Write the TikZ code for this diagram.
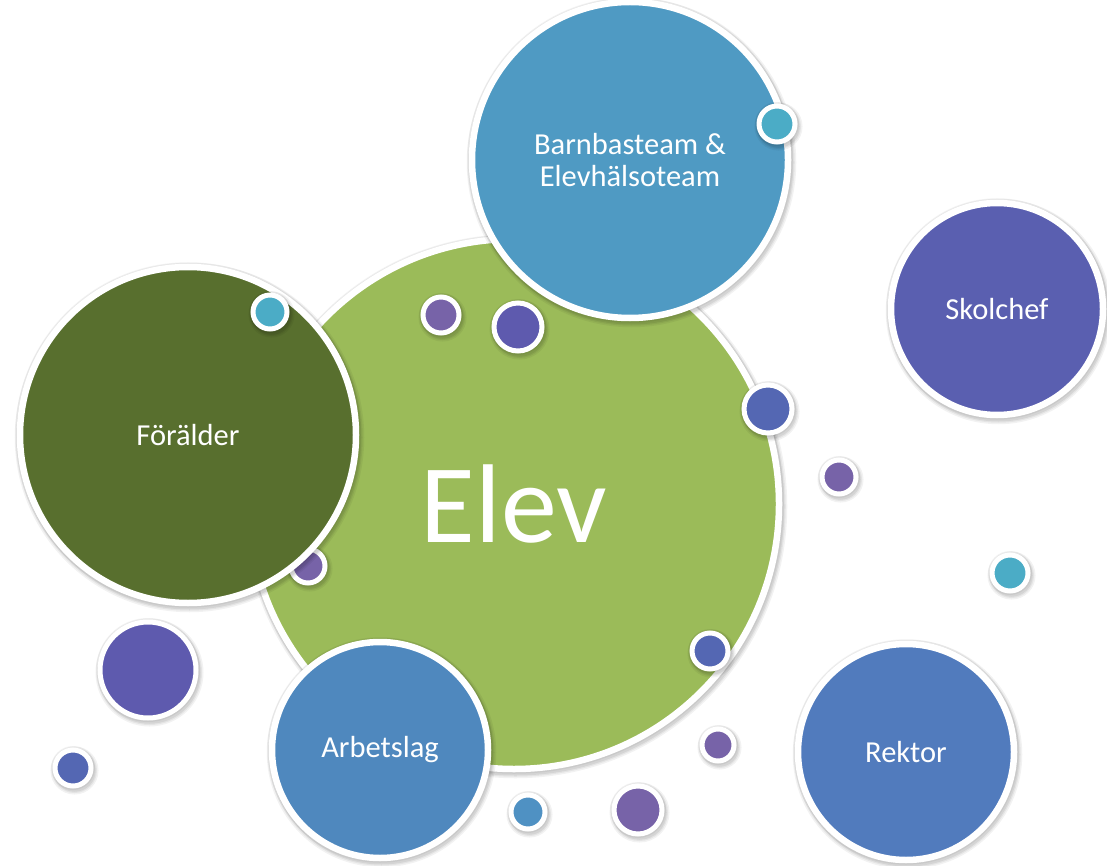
\documentclass[tikz,border=0pt]{standalone}
\usepackage{fontspec}
\setmainfont{Carlito}
\definecolor{elevgreen}{HTML}{9BBB59}
\definecolor{darkgreen}{HTML}{586F2E}
\definecolor{barnblue}{HTML}{4F9AC3}
\definecolor{skolpurple}{HTML}{5A5FB0}
\definecolor{rektorblue}{HTML}{517BBD}
\definecolor{arbblue}{HTML}{4F88BE}
\definecolor{teal}{HTML}{4BACC6}
\definecolor{violet}{HTML}{7763A8}
\definecolor{bluepurple}{HTML}{5E5AAE}
\definecolor{midblue}{HTML}{5467B3}
\definecolor{smallblue}{HTML}{4F91C3}
\tikzset{
  halo/.style={
    preaction={draw=black, draw opacity=0.05, line width=#1+7pt, transform canvas={shift={(1.5pt,-2.5pt)}}},
    preaction={draw=black, draw opacity=0.06, line width=#1+4pt, transform canvas={shift={(1.5pt,-2.5pt)}}},
    preaction={draw=black, draw opacity=0.07, line width=#1+1.5pt, transform canvas={shift={(1.5pt,-2.5pt)}}},
    preaction={draw=black, draw opacity=0.05, line width=#1+3pt}},
  bubble/.style={circle, draw=white, line width=6.5pt, inner sep=0pt, text=white,
    align=center, font=\fontsize{30.5}{32}\selectfont, halo=6.5pt},
  dot/.style={circle, draw=white, line width=5pt, inner sep=0pt, halo=5pt},
}
\begin{document}
\begin{tikzpicture}[x=1pt,y=-1pt]
\useasboundingbox (0,0) rectangle (1107,866);
% main
\node[bubble, fill=elevgreen, minimum size=530pt, font=\fontsize{112}{112}\selectfont] (elev) at (514,504) {Elev};
\node[bubble, fill=barnblue, minimum size=316pt] (barn) at (630,160) {Barnbasteam \&\\Elevhälsoteam};
\node[dot, fill=violet, minimum size=34pt] (d8) at (308,566) {};
\node[bubble, fill=darkgreen, minimum size=336pt] (foralder) at (188,435) {Förälder};
\node[bubble, fill=skolpurple, minimum size=212pt] (skolchef) at (997,309) {Skolchef};
\node[bubble, fill=rektorblue, minimum size=216pt] (rektor) at (906,752) {Rektor};
\node[bubble, fill=arbblue, minimum size=216pt] (arbetslag) at (380,750) {Arbetslag};
% small dots
\node[dot, fill=teal, minimum size=36pt] (d1) at (777,124) {};
\node[dot, fill=teal, minimum size=34pt] (d2) at (270,312) {};
\node[dot, fill=violet, minimum size=36pt] (d3) at (441,315) {};
\node[dot, fill=bluepurple, minimum size=48pt] (d4) at (518,327) {};
\node[dot, fill=midblue, minimum size=48pt] (d5) at (768,409) {};
\node[dot, fill=violet, minimum size=34pt] (d6) at (839,477) {};
\node[dot, fill=teal, minimum size=36pt] (d7) at (1010,573) {};
\node[dot, fill=midblue, minimum size=36pt] (d9) at (710,651) {};
\node[dot, fill=violet, minimum size=32pt] (d10) at (718,745) {};
\node[dot, fill=bluepurple, minimum size=96pt] (d11) at (148,670) {};
\node[dot, fill=midblue, minimum size=36pt] (d12) at (73,768) {};
\node[dot, fill=smallblue, minimum size=34pt] (d13) at (528,812) {};
\node[dot, fill=violet, minimum size=48pt] (d14) at (638,810) {};
\end{tikzpicture}
\end{document}
